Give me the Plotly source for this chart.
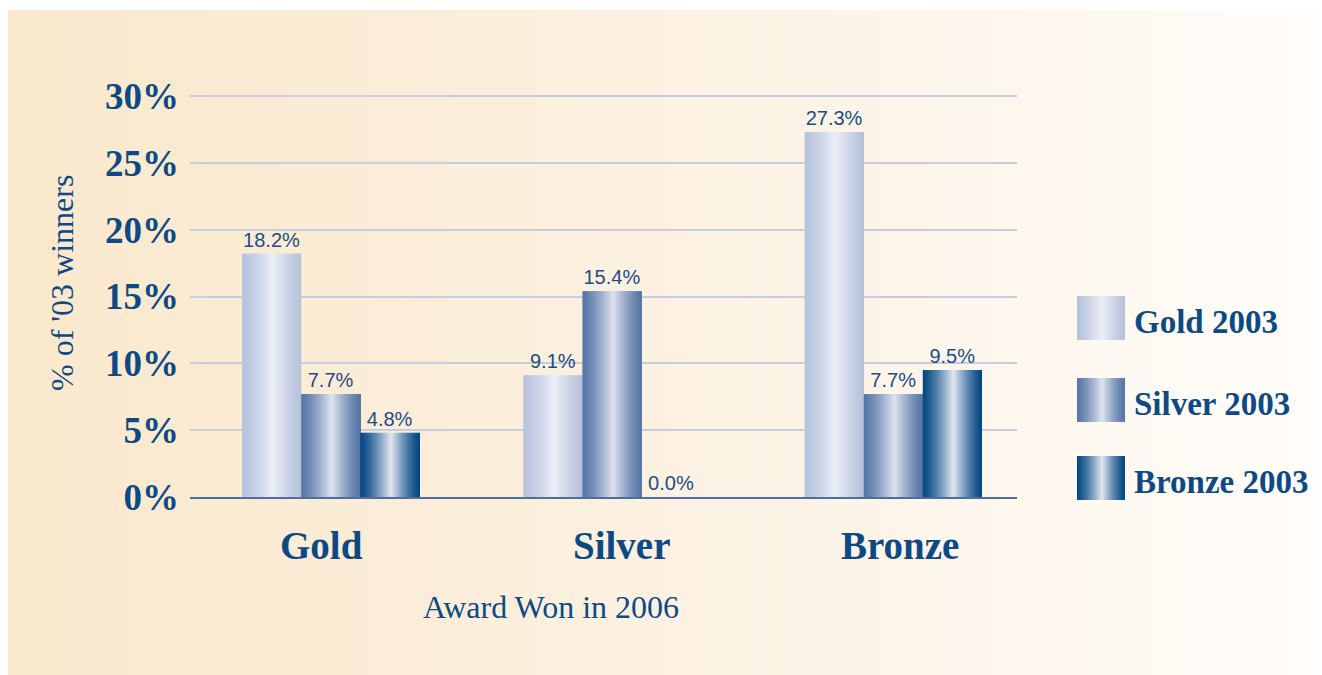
import plotly.graph_objects as go

# data
awards_2006 = ["Gold", "Silver", "Bronze"]
series_names = ["Gold 2003", "Silver 2003", "Bronze 2003"]
gold_2003 = [18.2, 9.1, 27.3]
silver_2003 = [7.7, 15.4, 7.7]
bronze_2003 = [4.8, 0.0, 9.5]
y_ticks = [0, 5, 10, 15, 20, 25, 30]

# (edge colour, centre colour) for the cylinder-like gradient of each series
grad = [((183, 195, 220), (236, 239, 248)),
        ((86, 118, 166), (223, 227, 239)),
        ((4, 72, 130), (227, 231, 241))]

NAVY = "#0d4a85"
SERIF = "Liberation Serif, Times New Roman, serif"

# plot area in screen pixels (page has an 8px body margin)
OFF = 8
L, R, T, B = 190, 1017, 92, 497


def px(x):
    return (x - L) / (R - L)


def py(y):
    return (B - y) / (B - T)


def mix(c1, c2, t):
    return "rgb(%d,%d,%d)" % tuple(round(a + (b - a) * t) for a, b in zip(c1, c2))


def strip_colour(edge, centre, f):
    # light band slightly right of the middle
    c = 0.52
    t = 1 - abs(f - c) / (c if f < c else 1 - c)
    t = max(t, 0) ** 1.3
    return mix(edge, centre, t)


fig = go.Figure()
N = 50
w = 0.21
start = -1.5 * w
for k, vals in enumerate([gold_2003, silver_2003, bronze_2003]):
    edge, centre = grad[k]
    for j in range(N):
        f = (j + 0.5) / N
        sw = w / N
        fig.add_trace(go.Bar(
            x=awards_2006, y=vals,
            offset=start + k * w + j * sw,
            width=sw * (2.0 if j < N - 1 else 1.0),
            marker=dict(color=strip_colour(edge, centre, f), line=dict(width=0)),
            showlegend=False, hoverinfo="skip"))
    fig.add_trace(go.Bar(
        x=awards_2006, y=vals, name=series_names[k],
        offset=start + k * w, width=w,
        marker=dict(color="rgba(0,0,0,0)", line=dict(width=0)),
        text=["%.1f%%" % v for v in vals], textposition="outside",
        textfont=dict(family="Liberation Sans Narrow, Arial Narrow, Arial, sans-serif",
                      size=20, color="#1b4c86"),
        cliponaxis=False, showlegend=False))

shapes = []
# page background: beige fading to white towards the right
stops = [(0, (250, 232, 204)), (0.3, (251, 237, 216)), (0.6, (252, 243, 230)),
         (0.85, (254, 249, 242)), (1.0, (255, 253, 250))]
x0p, x1p, y0p, y1p = 8, 1322, 10, 690
NB = 80
for i in range(NB):
    f = (i + 0.5) / NB
    for (a, ca), (b, cb) in zip(stops[:-1], stops[1:]):
        if a <= f <= b:
            col = mix(ca, cb, (f - a) / (b - a))
            break
    xa = x0p + (x1p - x0p) * i / NB
    xb = x0p + (x1p - x0p) * (i + 1) / NB + 1
    shapes.append(dict(type="rect", xref="paper", yref="paper", layer="below",
                       x0=px(xa), x1=px(xb), y0=py(y1p), y1=py(y0p),
                       fillcolor=col, line=dict(width=0)))

# legend swatches
annotations = []
sw_top = [296, 378, 456]
for k in range(3):
    edge, centre = grad[k]
    NS = 48
    for j in range(NS):
        f = (j + 0.5) / NS
        xa = 1077 + 48 * j / NS
        xb = 1077 + 48 * (j + 1) / NS + (1.0 if j < NS - 1 else 0)
        shapes.append(dict(type="rect", xref="paper", yref="paper",
                           x0=px(xa), x1=px(xb), y0=py(sw_top[k] + 44), y1=py(sw_top[k]),
                           fillcolor=strip_colour(edge, centre, f), line=dict(width=0)))
    annotations.append(dict(xref="paper", yref="paper", x=px(1132), y=py(sw_top[k] + 46),
                            xanchor="left", yanchor="bottom", showarrow=False,
                            text="<b>%s</b>" % series_names[k],
                            font=dict(family=SERIF, size=33, color=NAVY)))

# category labels (slightly off the group centres, as in the original)
for cat, shift in zip(awards_2006, [-9, 10, 7]):
    annotations.append(dict(xref="x", yref="paper", x=cat, y=py(545), xshift=shift,
                            xanchor="center", yanchor="middle", showarrow=False,
                            text="<b>%s</b>" % cat,
                            font=dict(family=SERIF, size=39, color=NAVY)))

annotations.append(dict(xref="paper", yref="paper", x=px(62), y=py(283), textangle=-90,
                        xanchor="center", yanchor="middle",
                        showarrow=False, text="% of '03 winners",
                        font=dict(family=SERIF, size=32, color=NAVY)))
annotations.append(dict(xref="paper", yref="paper", x=px(551), y=py(607),
                        xanchor="center", yanchor="middle",
                        showarrow=False, text="Award Won in 2006",
                        font=dict(family=SERIF, size=32, color=NAVY)))

fig.update_layout(
    width=1322, height=675,
    margin=dict(l=L - OFF, r=1322 - (R - OFF), t=T - OFF, b=675 - (B - OFF)),
    barmode="overlay",
    paper_bgcolor="white", plot_bgcolor="rgba(0,0,0,0)",
    shapes=shapes, annotations=annotations,
    showlegend=False,
    xaxis=dict(range=[-0.5, 2.44], showgrid=False, showline=True, linecolor="#4e6e9c",
               linewidth=1.5, ticks="", showticklabels=False),
    yaxis=dict(range=[0, 30.3], tickvals=y_ticks, showgrid=True,
               gridcolor="#c6cde0", gridwidth=1.5, zeroline=False, showline=False,
               ticklabelstandoff=10,
               tickfont=dict(family=SERIF, size=37, color=NAVY),
               ticktext=["<b>%d%%</b>" % t for t in y_ticks]),
)

fig.write_html("out.html")
